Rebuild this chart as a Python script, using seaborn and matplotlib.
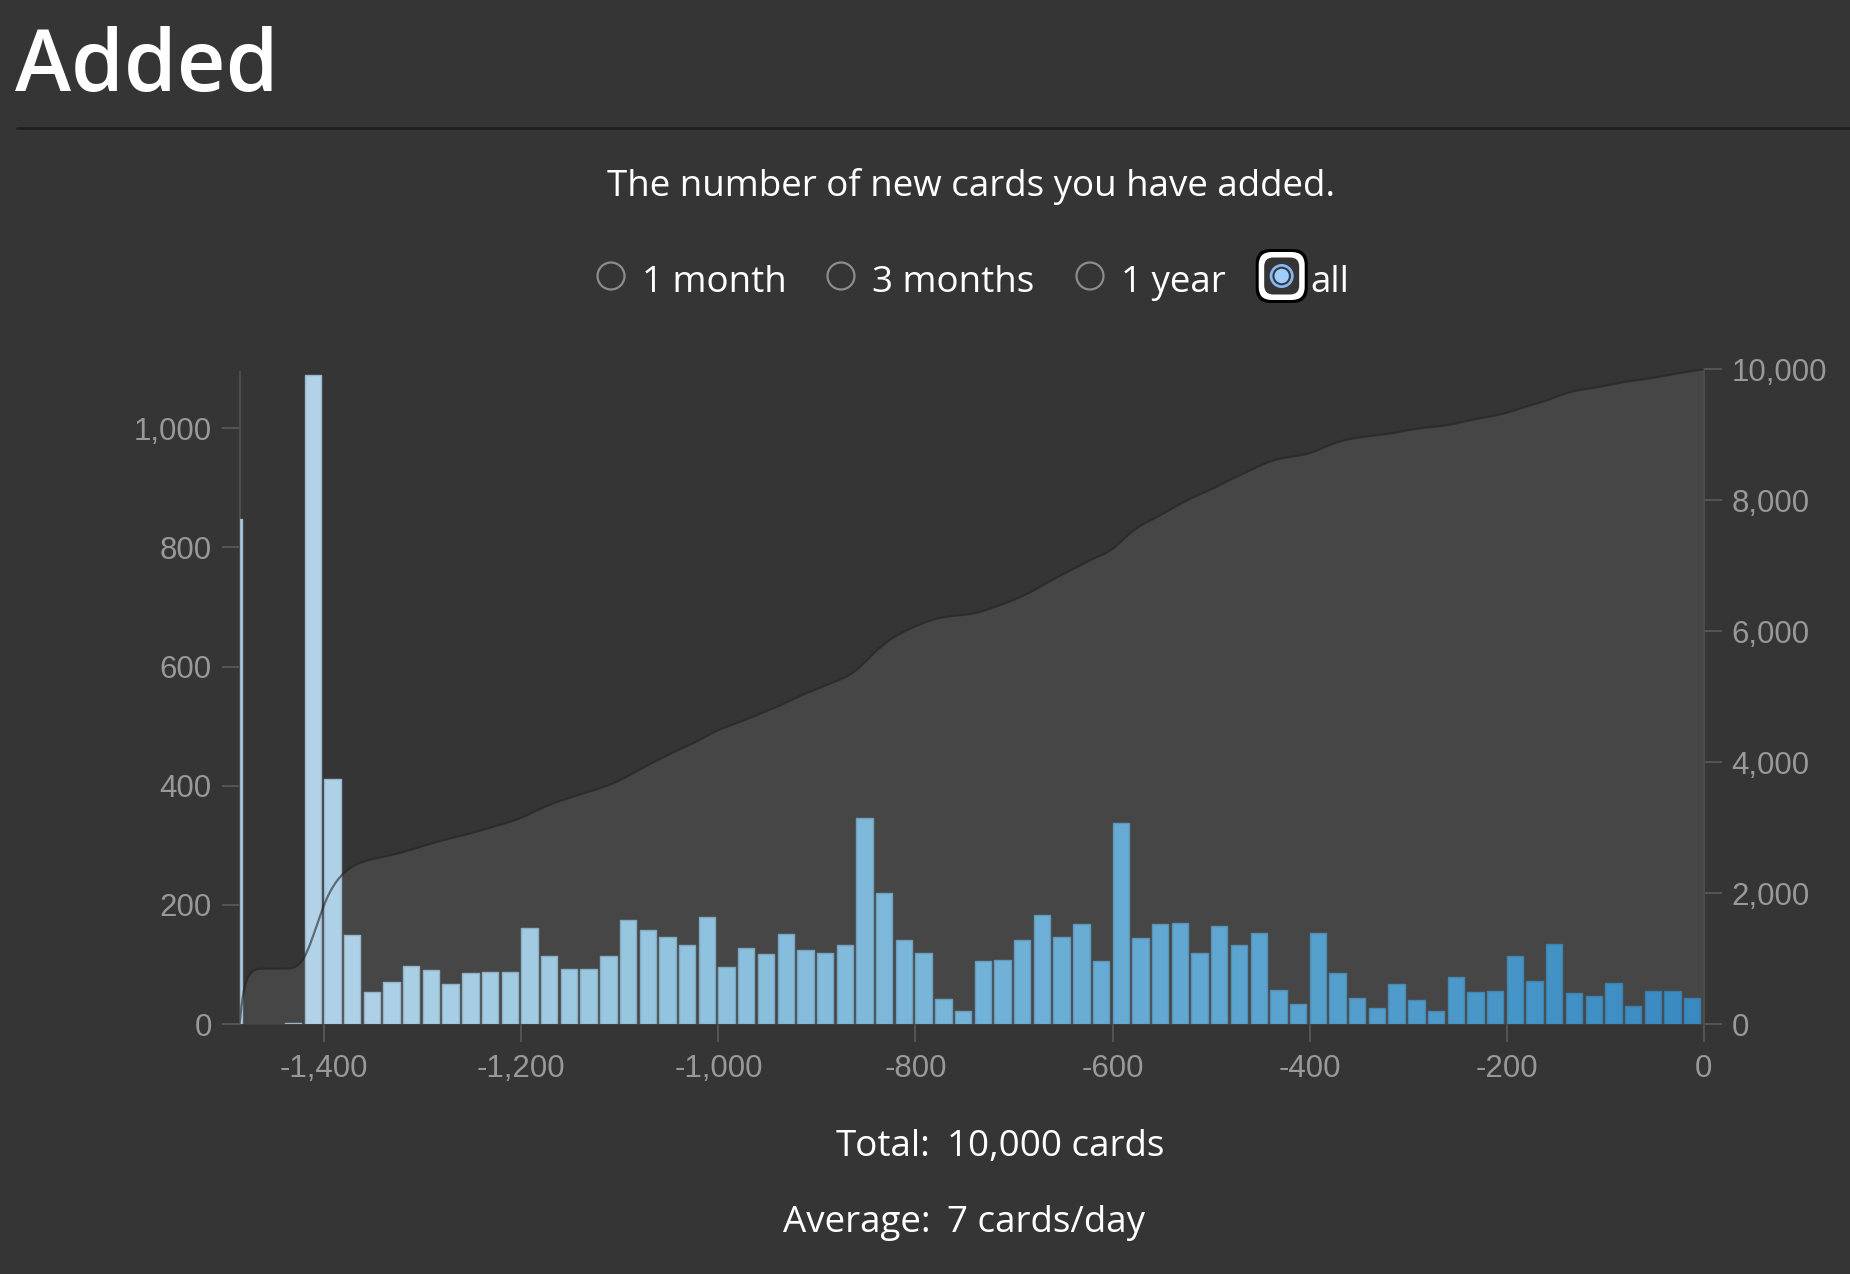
import numpy as np
import matplotlib
matplotlib.use("Agg")
import matplotlib.pyplot as plt
import seaborn as sns
from matplotlib.patches import Circle, FancyBboxPatch
from matplotlib.ticker import FuncFormatter, FixedLocator

# ---------------- data ----------------
bin_start_days = [-1486, -1480, -1460, -1440, -1420, -1400, -1380, -1360, -1340, -1320,
                  -1300, -1280, -1260, -1240, -1220, -1200, -1180, -1160, -1140, -1120,
                  -1100, -1080, -1060, -1040, -1020, -1000, -980, -960, -940, -920,
                  -900, -880, -860, -840, -820, -800, -780, -760, -740, -720,
                  -700, -680, -660, -640, -620, -600, -580, -560, -540, -520,
                  -500, -480, -460, -440, -420, -400, -380, -360, -340, -320,
                  -300, -280, -260, -240, -220, -200, -180, -160, -140, -120,
                  -100, -80, -60, -40, -20]
bin_end_days = [-1480] + bin_start_days[2:] + [0]
cards_added = [847, 0, 0, 2, 1089, 412, 149, 54, 70, 97,
               90, 67, 86, 88, 88, 162, 115, 92, 92, 114,
               175, 158, 146, 132, 180, 95, 127, 118, 151, 124,
               119, 133, 346, 220, 141, 119, 42, 22, 106, 108,
               141, 183, 146, 168, 106, 337, 144, 168, 170, 120,
               165, 132, 153, 57, 34, 153, 85, 43, 27, 67,
               41, 22, 79, 54, 55, 114, 72, 135, 52, 47,
               69, 30, 56, 56, 43]
x_ticks = [-1400, -1200, -1000, -800, -600, -400, -200, 0]
left_ticks = [0, 200, 400, 600, 800, 1000]
right_ticks = [0, 2000, 4000, 6000, 8000, 10000]
range_options = ["1 month", "3 months", "1 year", "all"]
title = "Added"
subtitle = "The number of new cards you have added."
summary_labels = ["Total:", "Average:"]
summary_values = ["10,000 cards", "7 cards/day"]

# ---------------- style ----------------
BG = "#353535"
sns.set_theme(style="dark", rc={"figure.facecolor": BG, "axes.facecolor": BG,
                                "savefig.facecolor": BG})
plt.rcParams["font.family"] = ["Open Sans", "DejaVu Sans"]

W, H = 1850, 1274
fig = plt.figure(figsize=(W / 100, H / 100), dpi=100)

def fx(x):
    return x / W

def fy(y):
    return 1 - y / H

# axes placement
x_left, x_right, y_top, y_bot = 239.5, 1703.8, 369.3, 1024.1
ax2 = fig.add_axes([fx(x_left), fy(y_bot), fx(x_right - x_left), (y_bot - y_top) / H])
ax = ax2.twinx()
ax.yaxis.set_label_position("left")
ax.yaxis.tick_left()
ax2.yaxis.set_label_position("right")
ax2.yaxis.tick_right()
ax.set_zorder(ax2.get_zorder() + 1)
ax.patch.set_visible(False)

x_min, x_max = -1486, 0
left_top = 1099
ax2.set_xlim(x_min, x_max)
ax.set_ylim(0, left_top)
ax2.set_ylim(0, 10000)

# cumulative area (B-spline like d3 curveBasis)
cum = np.cumsum(cards_added)
px = np.array([x_min] + bin_end_days, dtype=float)
py = np.concatenate([[0.0], cum]).astype(float)
cp_x = np.concatenate([[px[0]] * 2, px, [px[-1]] * 2])
cp_y = np.concatenate([[py[0]] * 2, py, [py[-1]] * 2])
t = np.linspace(0, 1, 12)
b0 = (1 - t) ** 3 / 6
b1 = (3 * t ** 3 - 6 * t ** 2 + 4) / 6
b2 = (-3 * t ** 3 + 3 * t ** 2 + 3 * t + 1) / 6
b3 = t ** 3 / 6
sx, sy = [], []
for i in range(len(cp_x) - 3):
    sx.append(b0 * cp_x[i] + b1 * cp_x[i + 1] + b2 * cp_x[i + 2] + b3 * cp_x[i + 3])
    sy.append(b0 * cp_y[i] + b1 * cp_y[i + 1] + b2 * cp_y[i + 2] + b3 * cp_y[i + 3])
sx = np.concatenate(sx)
sy = np.concatenate(sy)
ax2.fill_between(sx, 0, sy, color="#464646", lw=0, zorder=1)
ax.plot(sx, sy, color="#262626", lw=1.6, alpha=0.6, transform=ax2.transData, zorder=5)

# bars
cmap = sns.color_palette("Blues", as_cmap=True)
bar_w = 16.6
for s, e, v in zip(bin_start_days, bin_end_days, cards_added):
    if v <= 0:
        continue
    w = bar_w if (e - s) >= 20 else 3
    frac = (s - x_min) / (x_max - x_min)
    c = np.array(cmap(0.30 + 0.36 * frac))
    edge = c.copy()
    edge[:3] = c[:3] * 0.82 + np.array([0.21, 0.21, 0.21]) * 0.18
    ax.bar(s, v, width=w, align="edge", color=c, edgecolor=edge, linewidth=1.0,
           joinstyle="round", zorder=3)
ax2.set_xlim(x_min, x_max)

# axes styling
tick_col = "#555555"
lab_col = "#999999"
for a in (ax, ax2):
    for sp in a.spines.values():
        sp.set_visible(False)
    a.grid(False)
ax.spines["left"].set_visible(True)
ax.spines["left"].set_color("#4d4d4d")
ax.spines["left"].set_linewidth(1.4)
ax.spines["left"].set_bounds(0, 1095)
ax2.spines["right"].set_visible(True)
ax2.spines["right"].set_color("#4d4d4d")
ax2.spines["right"].set_linewidth(1.4)

fmt = FuncFormatter(lambda v, p: f"{int(v):,}")
ax.yaxis.set_major_locator(FixedLocator(left_ticks))
ax.yaxis.set_major_formatter(fmt)
ax2.yaxis.set_major_locator(FixedLocator(right_ticks))
ax2.yaxis.set_major_formatter(fmt)
ax2.xaxis.set_major_locator(FixedLocator(x_ticks))
ax2.xaxis.set_major_formatter(fmt)
ax.tick_params(axis="x", bottom=False, labelbottom=False, top=False, labeltop=False)

ax.tick_params(axis="y", direction="out", length=13, width=1.4, color=tick_col,
               labelcolor=lab_col, labelsize=22.5, pad=7, left=True, right=False,
               labelleft=True, labelright=False)
ax2.tick_params(axis="y", direction="out", length=13, width=1.4, color=tick_col,
                labelcolor=lab_col, labelsize=22.5, pad=7, left=False, right=True,
                labelleft=False, labelright=True)
ax2.tick_params(axis="x", direction="out", length=13, width=1.4, color=tick_col,
                labelcolor=lab_col, labelsize=22.5, pad=8.5, bottom=True, labelbottom=True)
for lbl in ax.get_yticklabels() + ax2.get_yticklabels() + ax2.get_xticklabels():
    lbl.set_fontfamily(["Liberation Sans", "DejaVu Sans"])
ax.set_xlabel("")
ax.set_ylabel("")
ax2.set_ylabel("")
ax2.set_xlabel("")

# ---------------- header texts ----------------
UI = 26.5
fig.text(fx(15), fy(91), title, color="white", fontsize=61, fontweight="semibold",
         ha="left", va="baseline")
fig.add_artist(plt.Line2D([fx(16.5), 1.0], [fy(127.5), fy(127.5)], color="#1f1f1f", lw=2))
fig.text(fx(971), fy(186.5), subtitle, color="white", fontsize=UI, ha="center", va="center")

# radio buttons
ui_tr = fig.dpi_scale_trans
def inch(x, y):
    return (x / 100, (H - y) / 100)

radio_cx = [611, 841, 1090]
label_x = [642, 872, 1121, 1310]
cy = 276
for cx in radio_cx:
    fig.add_artist(Circle(inch(cx, cy), 13.5 / 100, transform=ui_tr, fill=False,
                          edgecolor="#8c8c8c", lw=1.6))
# selected one with focus ring
sel_cx = 1281.7
fig.add_artist(FancyBboxPatch(inch(sel_cx - 26, cy + 27), 52 / 100, 54 / 100,
                              boxstyle="round,pad=0,rounding_size=0.15",
                              transform=ui_tr, facecolor="black", edgecolor="none"))
fig.add_artist(FancyBboxPatch(inch(sel_cx - 23, cy + 24), 46 / 100, 48 / 100,
                              boxstyle="round,pad=0,rounding_size=0.13",
                              transform=ui_tr, facecolor="white", edgecolor="none"))
fig.add_artist(FancyBboxPatch(inch(sel_cx - 17.5, cy + 18.5), 35 / 100, 37 / 100,
                              boxstyle="round,pad=0,rounding_size=0.09",
                              transform=ui_tr, facecolor=BG, edgecolor="none"))
fig.add_artist(Circle(inch(sel_cx, cy), 12 / 100, transform=ui_tr, facecolor="#84b8f6",
                      edgecolor="none"))
fig.add_artist(Circle(inch(sel_cx, cy), 9.3 / 100, transform=ui_tr, facecolor="#3a3a3a",
                      edgecolor="none"))
fig.add_artist(Circle(inch(sel_cx, cy), 7.2 / 100, transform=ui_tr, facecolor="#a0cdff",
                      edgecolor="none"))
for lx, lab in zip(label_x, range_options):
    fig.text(fx(lx), fy(cy + 7), lab, color="white", fontsize=UI, ha="left", va="center")

# summary table
for i, (lab, val) in enumerate(zip(summary_labels, summary_values)):
    yy = [1147, 1223][i]
    fig.text(fx(931), fy(yy), lab, color="white", fontsize=UI, ha="right", va="center")
    fig.text(fx(947), fy(yy), val, color="white", fontsize=UI, ha="left", va="center")

fig.savefig("out.png", dpi=100, facecolor=BG)
